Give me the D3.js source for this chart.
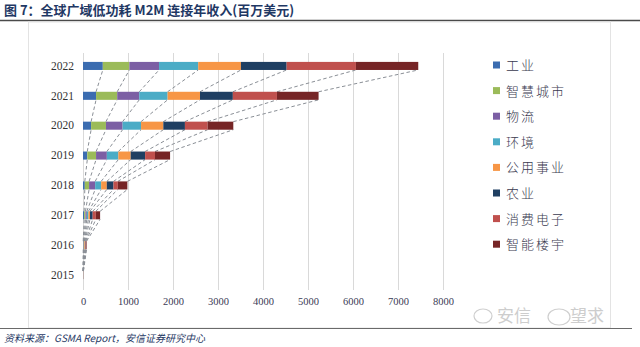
<!DOCTYPE html>
<html><head><meta charset="utf-8">
<script src="https://cdn.jsdelivr.net/npm/d3@7"></script>
<style>
html,body{margin:0;padding:0;background:#fff;}
svg{display:block;}
</style></head>
<body>
<svg id="c" width="640" height="347"></svg>
<script>
const years = ["2022","2021","2020","2019","2018","2017","2016","2015"];
const seriesNames = ["工业","智慧城市","物流","环境","公用事业","农业","消费电子","智能楼宇"];
const seriesColors = ["#3b6cb0","#9bbb59","#7c5fa4","#4bacc6","#f79646","#1f3f62","#c0504d","#762526"];
// values per year (same order as years), one array per series
const industry     = [440, 290, 180,  95,  40, 25,  5, 1];
const smartCity    = [590, 470, 330, 195,  95, 30,  8, 1];
const logistics    = [660, 490, 370, 240, 135, 30,  8, 1];
const environment  = [870, 630, 410, 255, 133, 35,  8, 1];
const utilities    = [950, 720, 495, 275, 126, 35, 15, 2];
const agriculture  = [1015, 730, 480, 320, 148, 60, 12, 1];
const consumerElec = [1540, 980, 505, 220,  96, 70, 10, 1];
const smartBuilding= [1385, 925, 570, 335, 213, 95, 14, 2];
const xTicks = [0,1000,2000,3000,4000,5000,6000,7000,8000];

const seriesValues = [industry, smartCity, logistics, environment, utilities, agriculture, consumerElec, smartBuilding];

const svg = d3.select("#c");
const x = d3.scaleLinear().domain([0, 8000]).range([83, 443]);
const y = d3.scaleBand().domain(years).range([51, 290]).paddingInner(0.73).paddingOuter(0.365);
const barH = 8;

// title
svg.append("text").attr("x", 4).attr("y", 15)
  .attr("font-family", "Noto Sans CJK SC").attr("font-weight", 700).attr("font-size", 13)
  .attr("fill", "#1f3864").text("图 7：全球广域低功耗 M2M 连接年收入(百万美元)");
svg.append("line").attr("x1", 0).attr("x2", 640).attr("y1", 20.5).attr("y2", 20.5)
  .attr("stroke", "#4a4a4a").attr("stroke-width", 1.5);

// chart frame
svg.append("rect").attr("x", 28.5).attr("y", 22).attr("width", 582).attr("height", 306)
  .attr("fill", "none").attr("stroke", "#e3e3e3").attr("stroke-width", 1);

// gridlines
svg.append("g").selectAll("line").data(xTicks).join("line")
  .attr("x1", d => x(d) + 0.5).attr("x2", d => x(d) + 0.5)
  .attr("y1", 53).attr("y2", 290)
  .attr("stroke", "#d9d9d9").attr("stroke-width", 1);

// x axis labels
const xAxis = d3.axisBottom(x).tickValues(xTicks).tickSize(0).tickPadding(0).tickFormat(d3.format("d"));
const gx = svg.append("g").attr("transform", "translate(0,298)").call(xAxis);
gx.select(".domain").remove();
gx.selectAll("text").attr("font-family", "Liberation Serif").attr("font-size", 10.5).attr("fill", "#3a3a55");

// y axis labels
const yAxis = d3.axisLeft(y).tickSize(0).tickPadding(0);
const gy = svg.append("g").attr("transform", "translate(74,0)").call(yAxis);
gy.select(".domain").remove();
gy.selectAll("text").attr("font-family", "Liberation Serif").attr("font-size", 11.5).attr("fill", "#333");

// stacking
const table = years.map((yr, i) => {
  const o = {year: yr};
  seriesNames.forEach((s, j) => o[s] = seriesValues[j][i]);
  return o;
});
const stacked = d3.stack().keys(seriesNames)(table);

// series lines (dashed) connecting the ends of each series between adjacent bars
const lines = [];
stacked.forEach((layer, j) => {
  for (let i = 0; i < years.length - 1; i++) {
    lines.push({
      x1: x(layer[i + 1][1]), y1: y(years[i + 1]),
      x2: x(layer[i][1]), y2: y(years[i]) + y.bandwidth()
    });
  }
});
svg.append("g").selectAll("line").data(lines).join("line")
  .attr("x1", d => d.x1).attr("y1", d => d.y1).attr("x2", d => d.x2).attr("y2", d => d.y2)
  .attr("stroke", "#8a8f96").attr("stroke-width", 1).attr("stroke-dasharray", "3.5,2.5");

// bars
svg.append("g").selectAll("g").data(stacked).join("g")
  .attr("fill", (d, j) => seriesColors[j])
  .selectAll("rect").data(d => d).join("rect")
  .attr("x", d => x(d[0])).attr("width", d => Math.max(0, x(d[1]) - x(d[0])))
  .attr("y", d => y(d.data.year)).attr("height", y.bandwidth());

// legend
const lg = svg.append("g").selectAll("g").data(seriesNames).join("g")
  .attr("transform", (d, j) => `translate(493,${65 + j * 25.6})`);
lg.append("rect").attr("x", 0).attr("y", -3.5).attr("width", 7).attr("height", 7)
  .attr("fill", (d, j) => seriesColors[j]);
lg.append("text").attr("x", 13).attr("y", 5)
  .attr("font-family", "Noto Sans CJK SC").attr("font-weight", 300).attr("font-size", 13)
  .attr("letter-spacing", 2).attr("fill", "#3a3a50").text(d => d);

// watermark
const wm = svg.append("g").attr("fill", "none").attr("stroke", "#cfcfcf").attr("stroke-width", 1.2);
wm.append("ellipse").attr("cx", 483).attr("cy", 316).attr("rx", 9).attr("ry", 7);
wm.append("ellipse").attr("cx", 559).attr("cy", 317).attr("rx", 11).attr("ry", 8);
svg.append("text").attr("x", 497).attr("y", 322)
  .attr("font-family", "Noto Sans CJK SC").attr("font-size", 17).attr("fill", "#cdcdcd").text("安信");
svg.append("text").attr("x", 570).attr("y", 322)
  .attr("font-family", "Noto Sans CJK SC").attr("font-size", 17).attr("fill", "#cdcdcd").text("望求");

// bottom rule + source
svg.append("line").attr("x1", 0).attr("x2", 632).attr("y1", 328.5).attr("y2", 328.5)
  .attr("stroke", "#6a6a6a").attr("stroke-width", 1);
svg.append("text").attr("x", 4).attr("y", 342)
  .attr("font-family", "Noto Sans CJK SC").attr("font-style", "italic").attr("font-size", 10)
  .attr("fill", "#1f3864").text("资料来源：GSMA Report，安信证券研究中心");
</script>
</body></html>
